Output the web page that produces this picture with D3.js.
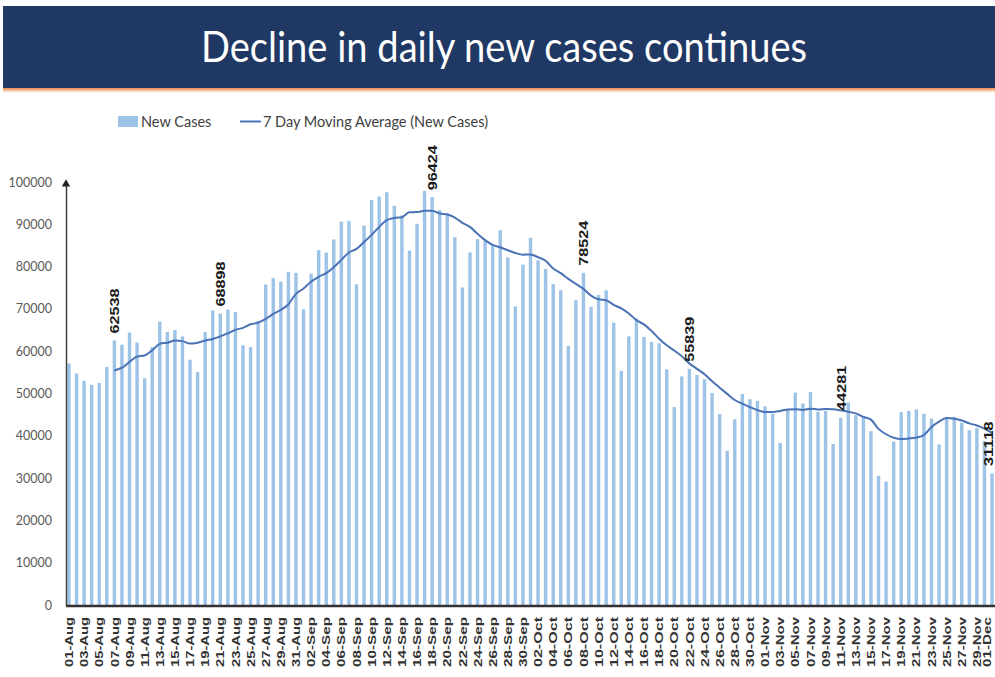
<!DOCTYPE html>
<html>
<head>
<meta charset="utf-8">
<script src="https://cdn.jsdelivr.net/npm/d3@7"></script>
<style>
  body { margin: 0; background: #fff; }
  svg { display: block; }
</style>
</head>
<body>
<svg width="995" height="677"></svg>
<script>
// daily new cases, 01-Aug to 01-Dec
var newCases = [
  57118, 54735, 52972, 52050, 52509, 56282, 62538, 61537, 64399, 62064,
  53601, 60963, 66999, 64553, 65002, 63490, 57981, 55079, 64531, 69652,
  68898, 69878, 69239, 61408, 60975, 67151, 75760, 77266, 76472, 78761,
  78512, 69921, 78357, 83883, 83341, 86432, 90632, 90802, 75809, 89706,
  95735, 96551, 97570, 94372, 92071, 83809, 90123, 97894, 96424, 93337,
  92605, 86961, 75083, 83347, 86508, 86052, 85362, 88600, 82170, 70589,
  80472, 86821, 81484, 79476, 75829, 74442, 61267, 72049, 78524, 70496,
  73272, 74383, 66732, 55342, 63509, 67708, 63371, 62212, 61871, 55722,
  46790, 54044, 55839, 54366, 53370, 50129, 45148, 36469, 43893, 49881,
  48648, 48268, 46964, 45231, 38310, 46253, 50210, 47638, 50356, 45674,
  45903, 38073, 44281, 47905, 44878, 44684, 41100, 30548, 29163, 38617,
  45576, 45882, 46232, 45209, 44059, 37975, 44376, 44489, 43082, 41322,
  41810, 38772, 31118
];

// 7 day moving average, starts 07-Aug
var movingAvg = [
  55458, 56089, 57470, 58768, 58990, 60198, 61729, 62017, 62512, 62382,
  61798, 62010, 62519, 62898, 63519, 64216, 65037, 65526, 66369, 66743,
  67616, 68811, 69753, 71113, 73557, 74835, 76436, 77596, 78464, 79887,
  81583, 83338, 84179, 85801, 87494, 89381, 90972, 91506, 91688, 92831,
  92890, 93199, 93180, 92576, 92323, 91593, 90347, 89379, 87752, 86270,
  85131, 84559, 83875, 83233, 82822, 82867, 82214, 81373, 79549, 78445,
  77113, 75910, 74724, 73155, 72268, 72062, 70960, 70114, 68894, 67349,
  66331, 64751, 62964, 61391, 60169, 58817, 57121, 55835, 54572, 52894,
  51384, 49909, 48459, 47608, 46791, 46062, 45610, 45622, 45885, 46222,
  46269, 46125, 46423, 46239, 46335, 46301, 46019, 45690, 45296, 44485,
  43832, 41638, 40366, 39556, 39224, 39367, 39588, 40175, 42105, 43364,
  44187, 44032, 43632, 42930, 42445, 41689, 40710
];
var maStart = "07-Aug";

var labelledDays = ["07-Aug", "21-Aug", "18-Sep", "08-Oct", "22-Oct", "11-Nov", "01-Dec"];
var yTicks = [0, 10000, 20000, 30000, 40000, 50000, 60000, 70000, 80000, 90000, 100000];

var fmt = d3.timeFormat("%d-%b");
var days = d3.timeDays(new Date(2020, 7, 1), new Date(2020, 11, 2)).map(fmt);

var svg = d3.select("svg");
var barColor = "#9dc3e6";
var lineColor = "#4a72b5";

// header banner
var defs = svg.append("defs");
var grad = defs.append("linearGradient").attr("id", "strip")
  .attr("x1", 0).attr("y1", 0).attr("x2", 0).attr("y2", 1);
grad.append("stop").attr("offset", "0%").attr("stop-color", "#e98a4e");
grad.append("stop").attr("offset", "100%").attr("stop-color", "#ffffff");

svg.append("rect").attr("x", 3).attr("y", 6).attr("width", 992).attr("height", 82)
  .attr("fill", "#1f3864");
svg.append("rect").attr("x", 3).attr("y", 88).attr("width", 992).attr("height", 5)
  .attr("fill", "url(#strip)");
svg.append("text")
  .attr("x", 504).attr("y", 62)
  .attr("text-anchor", "middle")
  .attr("textLength", 606)
  .attr("lengthAdjust", "spacingAndGlyphs")
  .style("font-family", "Lato, 'Open Sans', sans-serif")
  .style("font-size", "42px")
  .style("fill", "#ffffff")
  .text("Decline in daily new cases continues");

// legend
var legend = svg.append("g").style("font-family", "Lato, 'Open Sans', sans-serif")
  .style("font-size", "14.5px").style("fill", "#404040");
legend.append("rect").attr("x", 118).attr("y", 116).attr("width", 20).attr("height", 11)
  .attr("fill", barColor);
legend.append("text").attr("x", 141).attr("y", 127).text("New Cases");
legend.append("line").attr("x1", 240).attr("x2", 261).attr("y1", 121.5).attr("y2", 121.5)
  .attr("stroke", lineColor).attr("stroke-width", 2);
legend.append("text").attr("x", 263).attr("y", 127).text("7 Day Moving Average (New Cases)");

// scales
var x = d3.scaleBand().domain(days).range([65.2, 995.8]).paddingInner(0.55).paddingOuter(0.275);
var y = d3.scaleLinear().domain([0, 100000]).range([605, 182]);

// bars
svg.append("g")
  .selectAll("rect")
  .data(newCases)
  .enter()
  .append("rect")
  .attr("x", (d, i) => x(days[i]))
  .attr("width", x.bandwidth())
  .attr("y", (d) => y(d))
  .attr("height", (d) => y(0) - y(d))
  .attr("fill", barColor);

// moving average
var maOffset = days.indexOf(maStart);
var line = d3.line()
  .x((d, i) => x(days[i + maOffset]) + x.bandwidth() / 2)
  .y((d) => y(d))
  .curve(d3.curveMonotoneX);
svg.append("path")
  .datum(movingAvg)
  .attr("d", line)
  .attr("fill", "none")
  .attr("stroke", lineColor)
  .attr("stroke-width", 2);

// value labels (last one nudged in so it stays inside the frame)
svg.append("g")
  .selectAll("text")
  .data(labelledDays)
  .enter()
  .append("text")
  .attr("transform", function (d, k) {
    var i = days.indexOf(d);
    var cx = Math.min(x(d) + x.bandwidth() / 2, 988);
    return "translate(" + cx + "," + (y(newCases[i]) - 7) + ") rotate(-90)";
  })
  .attr("dy", "0.36em")
  .attr("textLength", 45)
  .attr("lengthAdjust", "spacingAndGlyphs")
  .style("font-family", "'Liberation Sans', Arial, sans-serif")
  .style("font-weight", "bold")
  .style("font-size", "13.5px")
  .style("fill", "#1a1a1a")
  .text((d) => newCases[days.indexOf(d)]);

// y axis
var yAxis = svg.append("g")
  .attr("transform", "translate(66,0)")
  .call(d3.axisLeft(y).tickValues(yTicks).tickSize(0).tickPadding(14).tickFormat(d3.format("d")));
yAxis.select(".domain").attr("stroke", "#404040").attr("stroke-width", 1.5);
yAxis.selectAll("text")
  .style("font-family", "Lato, 'Open Sans', sans-serif")
  .style("font-size", "12.5px")
  .style("fill", "#595959");
svg.append("path")
  .attr("d", d3.symbol(d3.symbolTriangle, 30)())
  .attr("transform", "translate(66,184)")
  .attr("fill", "#222");

// x axis
var xAxis = svg.append("g")
  .attr("transform", "translate(0,606)")
  .call(d3.axisBottom(x).tickValues(days.filter((d, i) => i % 2 === 0)).tickSize(0).tickPadding(0));
xAxis.select(".domain").attr("stroke", "#333").attr("stroke-width", 2.5)
  .attr("d", "M66,0H995");
xAxis.selectAll(".tick")
  .filter((d) => d === days[days.length - 1])
  .attr("transform", "translate(" + (x(days[days.length - 1]) + x.bandwidth() / 2 - 5) + ",0)");
xAxis.selectAll("text")
  .attr("transform", "translate(0,11) rotate(-90)")
  .attr("text-anchor", "end")
  .attr("x", 0)
  .attr("y", 0)
  .attr("dy", "0.36em")
  .attr("textLength", 50)
  .attr("lengthAdjust", "spacingAndGlyphs")
  .style("font-family", "'Liberation Sans', Arial, sans-serif")
  .style("font-weight", "bold")
  .style("font-size", "11.5px")
  .style("fill", "#333");
</script>
</body>
</html>
